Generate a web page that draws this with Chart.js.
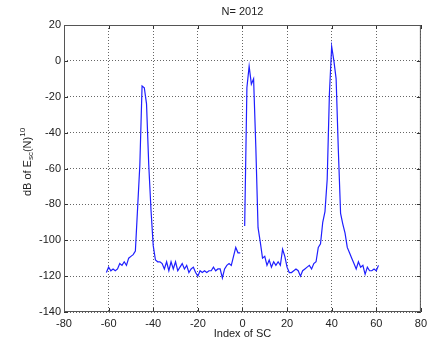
<!DOCTYPE html>
<html>
<head>
<meta charset="utf-8">
<script src="https://cdn.jsdelivr.net/npm/chart.js@4"></script>
<style>
  html, body { margin: 0; padding: 0; background: #fff; }
  #wrap { width: 432px; height: 341px; position: relative; }
</style>
</head>
<body>
<div id="wrap"><canvas id="scChart"></canvas></div>
<script>
// subcarrier index (0 = DC, not plotted)
const scIndex = [
  -61, -60, -59, -58, -57, -56, -55, -54, -53, -52, -51, -50, -49, -48, -47, -46,
  -45, -44, -43, -42, -41, -40, -39, -38, -37, -36, -35, -34, -33, -32, -31, -30,
  -29, -28, -27, -26, -25, -24, -23, -22, -21, -20, -19, -18, -17, -16, -15, -14,
  -13, -12, -11, -10, -9, -8, -7, -6, -5, -4, -3, -2, -1, 0,
  1, 2, 3, 4, 5, 6, 7, 8, 9, 10, 11, 12, 13, 14, 15, 16,
  17, 18, 19, 20, 21, 22, 23, 24, 25, 26, 27, 28, 29, 30, 31, 32,
  33, 34, 35, 36, 37, 38, 39, 40, 41, 42, 43, 44, 45, 46, 47, 48,
  49, 50, 51, 52, 53, 54, 55, 56, 57, 58, 59, 60, 61
];

// dB of E_sc(N)^10
const dbValues = [
  -118, -115, -117, -116, -117, -116, -113, -114, -112, -114, -110, -109, -108, -106, -82, -58,
  -14, -15, -24, -58, -83, -103, -111, -112, -112, -113, -116, -112, -117, -112, -116, -112,
  -117, -115, -113, -116, -114, -118, -116, -115, -118, -120, -117, -118, -117, -118, -117, -117,
  -115, -117, -116, -116, -121, -116, -114, -113, -114, -109, -104, -107, -107, null,
  -92, -15, -3, -13, -10, -48, -93, -101, -110, -109, -114, -111, -115, -112, -114, -112,
  -114, -105, -109, -115, -118, -118, -117, -116, -117, -120, -117, -116, -115, -114, -116, -113,
  -112, -104, -102, -90, -84, -66, -18, 8, 0, -10, -50, -85, -91, -96, -104, -107,
  -110, -113, -116, -112, -115, -114, -119, -115, -117, -117, -116, -117, -114
];

const xTicks = [-80, -60, -40, -20, 0, 20, 40, 60, 80];
const yTicks = [-140, -120, -100, -80, -60, -40, -20, 0, 20];

const chartTitle = 'N= 2012';
const xTitle = 'Index of SC';

const fontFam = '"Liberation Sans", Arial, sans-serif';

const puntos = scIndex.map((x, i) => ({ x: x, y: dbValues[i] }));

// texts + inward tick marks, drawn like the matlab figure
const extras = {
  id: 'extras',
  afterDraw(chart) {
    const ctx = chart.ctx;
    const a = chart.chartArea;
    const xs = chart.scales.x;
    const ys = chart.scales.y;
    ctx.save();

    // inward ticks
    ctx.strokeStyle = '#333';
    ctx.lineWidth = 1;
    ctx.beginPath();
    xTicks.forEach(v => {
      const px = Math.round(xs.getPixelForValue(v)) + 0.5;
      ctx.moveTo(px, a.bottom); ctx.lineTo(px, a.bottom - 4);
      ctx.moveTo(px, a.top); ctx.lineTo(px, a.top + 4);
    });
    yTicks.forEach(v => {
      const py = Math.round(ys.getPixelForValue(v)) + 0.5;
      ctx.moveTo(a.left, py); ctx.lineTo(a.left + 4, py);
      ctx.moveTo(a.right, py); ctx.lineTo(a.right - 4, py);
    });
    ctx.stroke();

    // box
    ctx.strokeStyle = '#555';
    ctx.strokeRect(a.left + 0.5, a.top + 0.5, a.right - a.left - 1, a.bottom - a.top - 1);

    ctx.fillStyle = '#222';
    ctx.font = '11px ' + fontFam;
    ctx.textAlign = 'center';
    ctx.textBaseline = 'middle';
    const cx = (a.left + a.right) / 2;
    ctx.fillText(chartTitle, cx, 12);
    ctx.fillText(xTitle, cx, 334);

    // y title with subscript and superscript
    const partes = [
      { t: 'dB of E', size: 11, dy: 0 },
      { t: 'sc', size: 8, dy: 3 },
      { t: '(N)', size: 11, dy: 0 },
      { t: '10', size: 8, dy: -5 }
    ];
    let total = 0;
    partes.forEach(p => {
      ctx.font = p.size + 'px ' + fontFam;
      p.w = ctx.measureText(p.t).width;
      total += p.w;
    });
    ctx.translate(28, 162);
    ctx.rotate(-Math.PI / 2);
    ctx.textAlign = 'left';
    let pos = -total / 2;
    partes.forEach(p => {
      ctx.font = p.size + 'px ' + fontFam;
      ctx.fillText(p.t, pos, p.dy);
      pos += p.w;
    });
    ctx.restore();
  }
};

new Chart(document.getElementById('scChart'), {
  type: 'line',
  data: {
    datasets: [{
      data: puntos,
      borderColor: '#1f1fff',
      borderWidth: 1.2,
      pointRadius: 0,
      tension: 0,
      spanGaps: false,
      fill: false
    }]
  },
  options: {
    responsive: true,
    maintainAspectRatio: false,
    animation: false,
    layout: { padding: { top: 25, right: 4, left: 0, bottom: 0 } },
    plugins: { legend: { display: false }, tooltip: { enabled: false } },
    scales: {
      x: {
        type: 'linear',
        min: -80, max: 80,
        afterBuildTicks: s => { s.ticks = xTicks.map(v => ({ value: v })); },
        afterFit: s => { s.height = 29; },
        grid: { color: '#666', drawTicks: false },
        border: { display: false, dash: [1, 2] },
        ticks: { color: '#222', padding: 5, maxRotation: 0, autoSkip: false, font: { family: fontFam, size: 11 } }
      },
      y: {
        min: -140, max: 20,
        afterBuildTicks: s => { s.ticks = yTicks.map(v => ({ value: v })); },
        afterFit: s => { s.width = 64; },
        grid: { color: '#666', drawTicks: false },
        border: { display: false, dash: [1, 2] },
        ticks: { color: '#222', padding: 3, autoSkip: false, font: { family: fontFam, size: 11 } }
      }
    }
  },
  plugins: [extras]
});
</script>
</body>
</html>
